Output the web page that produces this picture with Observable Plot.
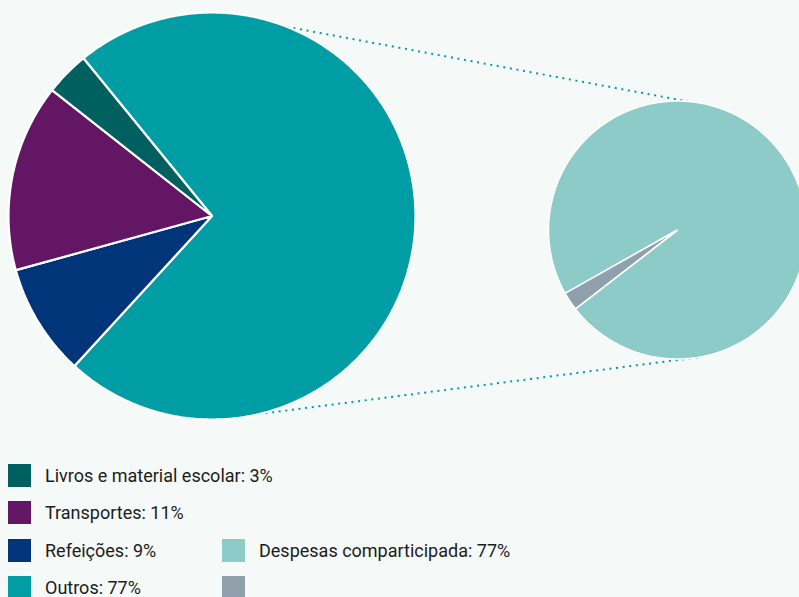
<!DOCTYPE html>
<html>
<head>
<meta charset="utf-8">
<script src="https://cdn.jsdelivr.net/npm/d3@7"></script>
<script src="https://cdn.jsdelivr.net/npm/@observablehq/plot@0.6"></script>
<style>
  html, body { margin: 0; padding: 0; background: #f5f9f8; }
  #wrap { width: 799px; height: 597px; overflow: hidden; position: relative; font-family: Roboto, "Noto Sans", sans-serif; }
  #chart svg { display: block; }
  #legend { display: grid; grid-template-columns: 214px auto; grid-auto-rows: 37.4px; margin-top: 24px; margin-left: 8px; }
  .item { display: flex; align-items: center; font-size: 18px; color: #1c1c1c; white-space: nowrap; height: 23px; }
  .sw { width: 23px; height: 23px; margin-right: 14px; flex: none; }
</style>
</head>
<body>
<div id="wrap"><div id="chart"></div><div id="legend"></div></div>
<script>
// ---- Data ----
const mainCategories = ["Outros", "Refeições", "Transportes", "Livros e material escolar"];
const mainValues = [72.7, 8.9, 14.9, 3.5];
const mainColors = ["#009ea4", "#00357a", "#621664", "#00605f"];
const mainStartDeg = 320.8;

const detailCategories = ["Despesas comparticipada", ""];
const detailValues = [97.7, 2.3];
const detailColors = ["#8ccbc8", "#909fac"];
const detailStartDeg = 240.6;

// connector end angles (degrees clockwise from 12 o'clock): [main pie, detail pie]
const connectorAngles = [[21.6, 4.6], [166.7, 170.7]];

const legendCol1 = ["Livros e material escolar: 3%", "Transportes: 11%", "Refeições: 9%", "Outros: 77%"];
const legendCol1Colors = ["#00605f", "#621664", "#00357a", "#009ea4"];
const legendCol2 = ["Despesas comparticipada: 77%", ""];
const legendCol2Colors = ["#8ccbc8", "#909fac"];

// ---- Layout ----
const W = 799, H = 440;
const mainPie = {cx: 211.5, cy: 215.5, r: 203.5};
const detailPie = {cx: 677, cy: 229.5, r: 129};

function slices(values, pie, startDeg, prefix) {
  const s = startDeg * Math.PI / 180;
  const arcs = d3.pie().sort(null).startAngle(s).endAngle(s + 2 * Math.PI)(values);
  const pts = [];
  arcs.forEach((a, i) => {
    const id = prefix + i;
    pts.push({id, x: pie.cx, y: pie.cy});
    const n = Math.max(2, Math.ceil((a.endAngle - a.startAngle) / (Math.PI / 360)));
    for (let k = 0; k <= n; k++) {
      const t = a.startAngle + (a.endAngle - a.startAngle) * k / n;
      pts.push({id, x: pie.cx + pie.r * Math.sin(t), y: pie.cy - pie.r * Math.cos(t)});
    }
  });
  return pts;
}

const mainPts = slices(mainValues, mainPie, mainStartDeg, "m");
const detailPts = slices(detailValues, detailPie, detailStartDeg, "d");
const links = connectorAngles.map(([a1, a2]) => {
  const t1 = a1 * Math.PI / 180, t2 = a2 * Math.PI / 180;
  return {
    x1: mainPie.cx + mainPie.r * Math.sin(t1), y1: mainPie.cy - mainPie.r * Math.cos(t1),
    x2: detailPie.cx + detailPie.r * Math.sin(t2), y2: detailPie.cy - detailPie.r * Math.cos(t2)
  };
});

const ids = [...mainValues.map((_, i) => "m" + i), ...detailValues.map((_, i) => "d" + i)];
const chart = Plot.plot({
  width: W, height: H,
  margin: 0,
  style: {background: "transparent", overflow: "hidden"},
  x: {domain: [0, W], range: [0, W], axis: null},
  y: {domain: [0, H], range: [0, H], axis: null},
  color: {domain: ids, range: [...mainColors, ...detailColors]},
  marks: [
    Plot.link(links, {x1: "x1", y1: "y1", x2: "x2", y2: "y2", stroke: "#009ea4", strokeWidth: 2, strokeDasharray: "2,4.67"}),
    Plot.line(mainPts, {x: "x", y: "y", z: "id", fill: "id", stroke: "white", strokeWidth: 2.2, curve: "linear-closed", strokeLinejoin: "miter"}),
    Plot.line(detailPts, {x: "x", y: "y", z: "id", fill: "id", stroke: "white", strokeWidth: 1.6, curve: "linear-closed", strokeLinejoin: "miter"})
  ]
});
document.getElementById("chart").appendChild(chart);

// ---- Legend ----
const legend = document.getElementById("legend");
function addItem(label, color, row, col) {
  const d = document.createElement("div");
  d.className = "item";
  d.style.gridRow = row; d.style.gridColumn = col;
  const sw = document.createElement("span"); sw.className = "sw"; sw.style.background = color;
  const t = document.createElement("span"); t.textContent = label;
  d.appendChild(sw); d.appendChild(t);
  legend.appendChild(d);
}
legendCol1.forEach((l, i) => addItem(l, legendCol1Colors[i], i + 1, 1));
legendCol2.forEach((l, i) => addItem(l, legendCol2Colors[i], legendCol1.length - legendCol2.length + i + 1, 2));
</script>
</body>
</html>
